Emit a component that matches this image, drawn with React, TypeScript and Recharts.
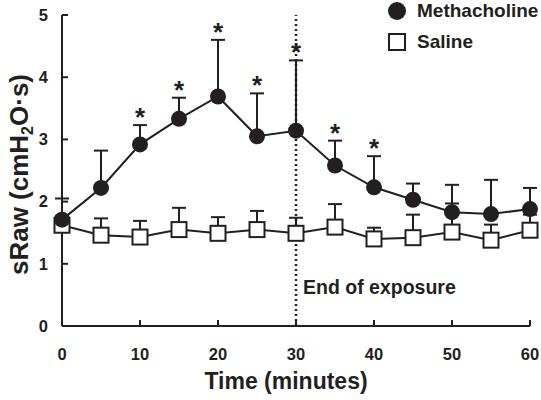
import React from 'react';
import { LineChart, Line, XAxis, YAxis, ErrorBar, ReferenceLine, LabelList } from 'recharts';

const times = [0, 5, 10, 15, 20, 25, 30, 35, 40, 45, 50, 55, 60];
const methacholine = [1.71, 2.22, 2.92, 3.33, 3.69, 3.05, 3.14, 2.58, 2.23, 2.03, 1.83, 1.80, 1.88];
const methacholineErr = [0.34, 0.6, 0.31, 0.34, 0.91, 0.69, 1.13, 0.4, 0.5, 0.26, 0.44, 0.55, 0.34];
const saline = [1.62, 1.46, 1.43, 1.55, 1.49, 1.55, 1.49, 1.59, 1.4, 1.42, 1.51, 1.38, 1.54];
const salineErr = [0.15, 0.27, 0.26, 0.35, 0.26, 0.3, 0.25, 0.37, 0.18, 0.37, 0.46, 0.25, 0.25];
const significant = [false, false, true, true, true, true, true, true, true, false, false, false, false];
const xTicks = [0, 10, 20, 30, 40, 50, 60];
const yTicks = [0, 1, 2, 3, 4, 5];

const FONT = '"Liberation Sans", Arial, Helvetica, sans-serif';
const INK = '#231f20';

const data = times.map((t, i) => ({
  t,
  m: methacholine[i],
  mErr: [0, methacholineErr[i]],
  s: saline[i],
  sErr: [0, salineErr[i]],
  top: methacholine[i] + methacholineErr[i],
}));

const CircleDot = (p: any) => {
  if (p.cx == null || p.cy == null) return null;
  return <circle key={`c${p.index}`} cx={p.cx} cy={p.cy} r={8} fill={INK} stroke="none" />;
};
const SquareDot = (p: any) => {
  if (p.cx == null || p.cy == null) return null;
  return (
    <rect key={`s${p.index}`} x={p.cx - 7.5} y={p.cy - 7.5} width={15} height={15} fill="#fff" stroke={INK} strokeWidth={2} />
  );
};

const Star = (p: any) => {
  if (!significant[p.index]) return null;
  return (
    <text x={p.x} y={p.y + 1} textAnchor="middle" fontFamily={FONT} fontWeight="bold" fontSize={26} fill={INK}>
      *
    </text>
  );
};

const YLabel = (p: any) => {
  const vb = p.viewBox || {};
  const cx = 28;
  const cy = (vb.y ?? 15) + (vb.height ?? 311) / 2 + 4;
  return (
    <text
      x={cx}
      y={cy}
      transform={`rotate(-90 ${cx} ${cy})`}
      textAnchor="middle"
      fontFamily={FONT}
      fontWeight="bold"
      fontSize={26}
      fill={INK}
    >
      sRaw (cmH
      <tspan fontSize={16} dy={5}>2</tspan>
      <tspan dy={-5}>O·s)</tspan>
    </text>
  );
};

const XLabel = (p: any) => {
  const vb = p.viewBox || {};
  return (
    <text
      x={286}
      y={(vb.y ?? 326) + 63}
      textAnchor="middle"
      fontFamily={FONT}
      fontWeight="bold"
      fontSize={23}
      fill={INK}
    >
      Time (minutes)
    </text>
  );
};

const EndLabel = (p: any) => {
  const vb = p.viewBox || {};
  return (
    <text
      x={(vb.x ?? 296) + 7}
      y={(vb.y ?? 15) + (vb.height ?? 311) - 32}
      fontFamily={FONT}
      fontWeight="bold"
      fontSize={19.5}
      fill={INK}
    >
      End of exposure
    </text>
  );
};

export default function App() {
  return (
    <div style={{ position: 'absolute', left: 0, top: 0, width: 541, height: 400, background: '#fff' }}>
      <LineChart width={541} height={400} data={data} margin={{ top: 15, right: 11, left: 0, bottom: 0 }}>
        <XAxis
          dataKey="t"
          type="number"
          domain={[0, 60]}
          ticks={xTicks}
          height={74}
          axisLine={{ stroke: INK, strokeWidth: 2 }}
          tickLine={{ stroke: INK, strokeWidth: 2 }}
          tickSize={-6}
          tickMargin={28}
          tick={{ fill: INK, fontSize: 16.5, fontWeight: 'bold', fontFamily: FONT }}
          label={<XLabel />}
        />
        <YAxis
          type="number"
          domain={[0, 5]}
          ticks={yTicks}
          width={62}
          axisLine={{ stroke: INK, strokeWidth: 2 }}
          tickLine={{ stroke: INK, strokeWidth: 2 }}
          tickSize={-6}
          tickMargin={20}
          tick={{ fill: INK, fontSize: 16.5, fontWeight: 'bold', fontFamily: FONT }}
          label={<YLabel />}
        />
        <ReferenceLine
          x={30}
          stroke={INK}
          strokeWidth={2.5}
          strokeDasharray="2 3"
          label={<EndLabel />}
        />
        <Line dataKey="s" stroke={INK} strokeWidth={2} isAnimationActive={false} dot={false} activeDot={false}>
          <ErrorBar dataKey="sErr" direction="y" width={7} stroke={INK} strokeWidth={2} />
        </Line>
        <Line dataKey="s" stroke="none" isAnimationActive={false} dot={<SquareDot />} activeDot={false} />
        <Line dataKey="m" stroke={INK} strokeWidth={2} isAnimationActive={false} dot={false} activeDot={false}>
          <ErrorBar dataKey="mErr" direction="y" width={7} stroke={INK} strokeWidth={2} />
        </Line>
        <Line dataKey="m" stroke="none" isAnimationActive={false} dot={<CircleDot />} activeDot={false} />
        <Line dataKey="top" stroke="none" dot={false} activeDot={false} isAnimationActive={false} legendType="none">
          <LabelList dataKey="top" content={<Star />} />
        </Line>
      </LineChart>
      <svg width={161} height={60} style={{ position: 'absolute', left: 380, top: 0 }}>
        <circle cx={17} cy={11} r={9} fill={INK} />
        <text x={37} y={17} fontFamily={FONT} fontWeight="bold" fontSize={19} fill={INK}>
          Methacholine
        </text>
        <rect x={9} y={34} width={16} height={16} fill="#fff" stroke={INK} strokeWidth={2} />
        <text x={37} y={48} fontFamily={FONT} fontWeight="bold" fontSize={19} fill={INK}>
          Saline
        </text>
      </svg>
    </div>
  );
}
